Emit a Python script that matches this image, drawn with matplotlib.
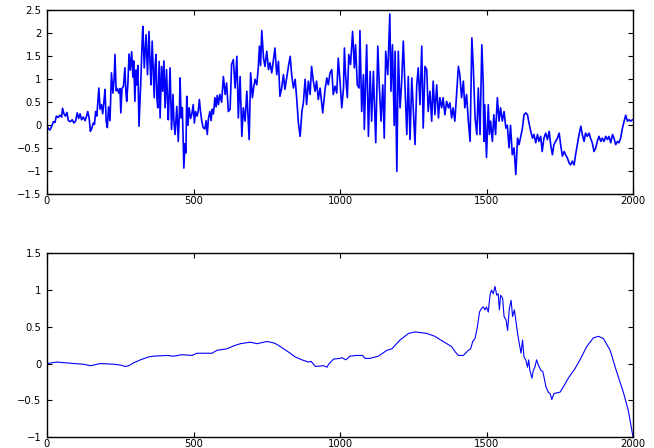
import numpy as np
import matplotlib
matplotlib.use("Agg")
import matplotlib.pyplot as plt
from matplotlib.ticker import FuncFormatter

# ---------------- data ----------------
top_pts = [
    (0, 0.0), (5, -0.08), (10, -0.1), (16, -0.02), (22, 0.08), (27, 0.06), (32, 0.2), (38, 0.17),
    (44, 0.22), (50, 0.18), (53, 0.37), (58, 0.25), (63, 0.2), (68, 0.28), (73, 0.1), (80, 0.08),
    (86, 0.12), (92, 0.05), (98, 0.1), (103, 0.27), (108, 0.15), (113, 0.25), (118, 0.12), (124, 0.18),
    (130, 0.1), (135, 0.2), (139, 0.3), (144, 0.15), (148, -0.13), (152, -0.08), (158, 0.05), (162, 0.02),
    (166, 0.3), (170, 0.2), (173, 0.45), (177, 0.81), (181, 0.35), (186, 0.45), (190, 0.25), (194, 0.5),
    (198, 0.78), (202, 0.08), (206, -0.05), (210, 0.4), (215, 0.1), (220, 1.14), (225, 0.7), (229, 1.0),
    (232, 1.54), (236, 0.75), (240, 0.8), (245, 0.7), (249, 0.8), (252, 0.27), (256, 0.8), (261, 0.85),
    (266, 1.25), (269, 0.75), (272, 0.52), (276, 0.9), (280, 1.55), (284, 1.2), (289, 1.6), (293, 1.05),
    (296, 1.4), (300, 0.52), (303, 1.2), (306, 0.88), (310, 1.3), (314, -0.02), (318, 0.6), (321, 1.1),
    (324, 1.7), (327, 2.15), (332, 1.25), (335, 1.6), (338, 1.97), (343, 1.1), (348, 2.04), (352, 1.3),
    (355, 0.88), (359, 1.83), (363, 1.1), (366, 0.6), (369, 1.3), (372, 1.54), (375, 0.6), (378, 0.38),
    (383, 1.39), (386, 0.16), (391, 1.28), (395, 0.74), (399, 1.4), (403, 0.38), (408, 1.21), (411, 0.6),
    (414, 0.12), (420, 1.25), (425, -0.09), (430, 0.67), (433, 0.1), (437, -0.2), (443, 0.41), (448, -0.35),
    (452, 0.3), (454, 1.03), (458, 0.16), (462, 0.38), (467, -0.93), (471, -0.4), (474, -0.6), (477, 0.63),
    (481, 0.0), (485, 0.38), (490, 0.15), (494, 0.23), (499, 0.45), (503, 0.05), (507, 0.3), (512, 0.2),
    (516, 0.3), (520, 0.56), (524, 0.3), (528, 0.1), (533, -0.05), (539, -0.08), (543, 0.1), (547, -0.2),
    (551, 0.15), (556, 0.3), (560, 0.1), (564, 0.35), (568, 0.25), (573, 0.6), (577, 0.4), (581, 0.65),
    (585, 0.45), (590, 0.67), (596, 0.5), (602, 1.06), (608, 0.67), (613, 0.92), (619, 0.3), (625, 0.35),
    (630, 1.32), (636, 1.43), (642, 0.81), (648, 1.5), (653, 0.16), (659, 1.06), (665, -0.24), (670, 0.38),
    (676, 0.09), (682, 0.74), (690, -0.31), (695, 1.14), (701, 0.6), (705, 0.8), (710, 1.0), (716, 0.88),
    (721, 1.25), (725, 1.72), (729, 1.3), (733, 2.06), (739, 1.46), (744, 1.28), (750, 1.61), (756, 1.21),
    (761, 1.36), (767, 1.14), (773, 1.43), (778, 1.68), (784, 1.1), (790, 1.39), (795, 0.63), (801, 0.81),
    (807, 1.1), (812, 0.78), (818, 1.03), (824, 1.28), (830, 1.5), (835, 1.1), (841, 0.81), (847, 1.0),
    (852, 0.6), (858, 0.05), (864, -0.24), (870, 0.3), (875, 0.49), (881, 1.0), (886, 0.45), (892, 0.96),
    (898, 0.67), (903, 1.28), (909, 0.96), (915, 0.74), (920, 0.96), (926, 0.56), (932, 0.81), (937, 0.5),
    (941, 0.27), (949, 0.78), (955, 1.03), (960, 0.88), (966, 1.14), (972, 1.21), (977, 0.67), (983, 0.85),
    (989, 0.7), (994, 1.46), (1000, 0.96), (1006, 0.38), (1012, 0.81), (1015, 1.68), (1019, 1.1), (1025, 0.6),
    (1030, 1.54), (1036, 1.32), (1043, 2.04), (1049, 1.25), (1053, 1.75), (1059, 0.88), (1065, 0.81), (1068, 2.06),
    (1074, 0.3), (1080, 1.1), (1083, -0.09), (1091, 1.75), (1097, -0.24), (1103, 1.17), (1108, 0.09), (1114, 1.17),
    (1122, -0.38), (1129, 1.72), (1134, 0.88), (1140, 0.09), (1146, 0.88), (1151, -0.28), (1156, 1.61), (1163, 1.1),
    (1170, 2.42), (1174, 0.74), (1179, 1.75), (1185, 0.0), (1188, 1.61), (1194, -1.0), (1199, 1.61), (1205, 0.38),
    (1210, 0.88), (1216, 1.83), (1222, 0.81), (1228, -0.2), (1233, 1.06), (1239, -0.31), (1245, 1.03), (1250, 0.38),
    (1256, -0.42), (1262, 0.88), (1267, 1.25), (1273, 0.45), (1279, 1.72), (1284, -0.06), (1290, 1.28), (1296, 1.21),
    (1301, 0.3), (1307, 0.74), (1313, 0.09), (1318, 0.96), (1324, 0.23), (1330, 0.88), (1336, 0.16), (1341, 0.6),
    (1347, 0.38), (1352, 0.6), (1358, 0.23), (1364, 0.52), (1370, 0.38), (1375, 0.49), (1381, 0.16), (1386, 0.38),
    (1392, 0.09), (1398, 0.67), (1404, 1.28), (1409, 1.1), (1415, 0.6), (1421, 0.96), (1426, 0.38), (1432, 0.67),
    (1438, 0.09), (1444, -0.35), (1450, 1.9), (1455, 1.25), (1461, 0.16), (1467, -0.2), (1472, 0.81), (1478, -0.2),
    (1484, 1.75), (1489, 0.88), (1491, -0.35), (1494, 0.45), (1500, -0.7), (1506, 0.45), (1510, -0.2), (1514, 0.09),
    (1520, -0.35), (1525, 0.23), (1531, -0.2), (1537, 0.6), (1543, 0.09), (1548, 0.38), (1554, 0.09), (1560, 0.3),
    (1566, -0.06), (1571, 0.0), (1577, -0.49), (1582, 0.0), (1588, -0.64), (1594, -0.49), (1600, -1.07), (1606, -0.28),
    (1611, -0.42), (1617, -0.24), (1622, -0.09), (1628, 0.23), (1634, 0.27), (1640, 0.23), (1645, 0.05), (1651, -0.13),
    (1657, -0.28), (1662, -0.2), (1668, -0.38), (1674, -0.2), (1679, -0.35), (1685, -0.24), (1690, -0.57), (1696, -0.28),
    (1702, -0.17), (1708, -0.31), (1714, -0.13), (1719, -0.42), (1725, -0.64), (1730, -0.42), (1736, -0.35), (1742, -0.28),
    (1748, -0.17), (1753, -0.42), (1759, -0.67), (1765, -0.57), (1770, -0.64), (1776, -0.71), (1782, -0.82), (1787, -0.86),
    (1793, -0.78), (1799, -0.86), (1804, -0.64), (1810, -0.42), (1816, -0.2), (1822, -0.02), (1827, -0.2), (1833, -0.35),
    (1838, -0.17), (1844, -0.24), (1850, -0.17), (1855, -0.28), (1861, -0.38), (1867, -0.57), (1873, -0.49), (1878, -0.35),
    (1884, -0.24), (1890, -0.35), (1895, -0.28), (1901, -0.35), (1907, -0.24), (1913, -0.31), (1918, -0.24), (1924, -0.38),
    (1930, -0.2), (1935, -0.28), (1941, -0.42), (1947, -0.35), (1952, -0.38), (1958, -0.28), (1964, -0.06), (1970, 0.09),
    (1975, 0.22), (1981, 0.09), (1987, 0.12), (1992, 0.09), (1998, 0.12),
]
top_x = [p[0] for p in top_pts]
top_y = [p[1] for p in top_pts]

bot_pts = [
    (0, 0.0), (34, 0.02), (91, 0.0), (125, -0.01), (148, -0.03), (171, -0.01), (182, 0.0), (228, -0.01),
    (250, -0.02), (267, -0.04), (279, -0.03), (296, 0.01), (319, 0.05), (347, 0.09), (364, 0.1), (410, 0.11),
    (432, 0.1), (460, 0.12), (495, 0.11), (511, 0.14), (563, 0.14), (580, 0.18), (614, 0.2), (637, 0.24),
    (660, 0.27), (694, 0.29), (717, 0.27), (751, 0.3), (774, 0.28), (785, 0.26), (808, 0.2), (830, 0.14),
    (847, 0.09), (870, 0.05), (893, 0.02), (901, 0.03), (916, -0.04), (944, -0.03), (956, -0.05), (961, -0.01),
    (978, 0.06), (1000, 0.07), (1006, 0.08), (1020, 0.05), (1034, 0.1), (1057, 0.11), (1077, 0.11), (1085, 0.07),
    (1102, 0.07), (1131, 0.1), (1160, 0.18), (1177, 0.2), (1205, 0.32), (1234, 0.41), (1256, 0.43), (1296, 0.41),
    (1324, 0.37), (1352, 0.3), (1381, 0.23), (1393, 0.16), (1404, 0.11), (1421, 0.11), (1438, 0.18), (1446, 0.2),
    (1453, 0.3), (1461, 0.34), (1469, 0.5), (1476, 0.7), (1483, 0.75), (1489, 0.77), (1495, 0.73), (1500, 0.77),
    (1506, 0.7), (1512, 0.93), (1517, 1.0), (1523, 0.95), (1529, 1.05), (1535, 0.93), (1540, 0.95), (1544, 0.73),
    (1548, 0.93), (1555, 0.89), (1560, 0.64), (1567, 0.59), (1572, 0.45), (1578, 0.75), (1584, 0.86), (1589, 0.64),
    (1595, 0.73), (1600, 0.59), (1606, 0.41), (1612, 0.27), (1618, 0.14), (1623, 0.32), (1628, 0.09), (1634, 0.05),
    (1640, -0.05), (1644, 0.05), (1648, -0.09), (1655, -0.2), (1660, -0.09), (1665, -0.05), (1671, 0.05), (1677, -0.02),
    (1685, -0.09), (1692, -0.11), (1696, -0.18), (1703, -0.32), (1711, -0.39), (1717, -0.41), (1723, -0.49), (1730, -0.41),
    (1739, -0.4), (1751, -0.39), (1762, -0.32), (1779, -0.2), (1802, -0.07), (1819, 0.05), (1842, 0.23), (1865, 0.35),
    (1882, 0.37), (1899, 0.34), (1922, 0.18), (1944, -0.11), (1967, -0.39), (1984, -0.64), (2000, -1.0),
]
bot_x = [p[0] for p in bot_pts]
bot_y = [p[1] for p in bot_pts]

x_ticks = [0, 500, 1000, 1500, 2000]
top_yticks = [-1.5, -1, -0.5, 0, 0.5, 1, 1.5, 2, 2.5]
bot_yticks = [-1, -0.5, 0, 0.5, 1, 1.5]

# ---------------- drawing ----------------
plt.rcParams['font.family'] = ['DejaVu Sans']

def fmt(v, pos=None):
    s = '%g' % v
    return s.replace('-', '\u2212')

fig = plt.figure(figsize=(6.54, 4.48), dpi=100)
ax1 = fig.add_axes([47/654, 1 - 194.3/448, 586/654, 184/448])
ax2 = fig.add_axes([47/654, 1 - 437/448, 586/654, 183.7/448])

ax1.plot(top_x, top_y, color=(0, 0, 1), lw=1.2)
ax2.plot(bot_x, bot_y, color=(0, 0, 1), lw=0.8)

for ax, yt in ((ax1, top_yticks), (ax2, bot_yticks)):
    ax.set_xlim(0, 2000)
    ax.set_ylim(yt[0], yt[-1])
    ax.set_xticks(x_ticks)
    ax.set_yticks(yt)
    ax.xaxis.set_major_formatter(FuncFormatter(fmt))
    ax.yaxis.set_major_formatter(FuncFormatter(fmt))
    ax.tick_params(axis='both', direction='in', length=3.5, width=0.8, top=True, right=True,
                   labelsize=7.2, colors='black')
    ax.tick_params(axis='x', pad=1.5)
    ax.tick_params(axis='y', pad=4)
    for s in ax.spines.values():
        s.set_linewidth(1.0)

fig.savefig('out.png', dpi=100)
